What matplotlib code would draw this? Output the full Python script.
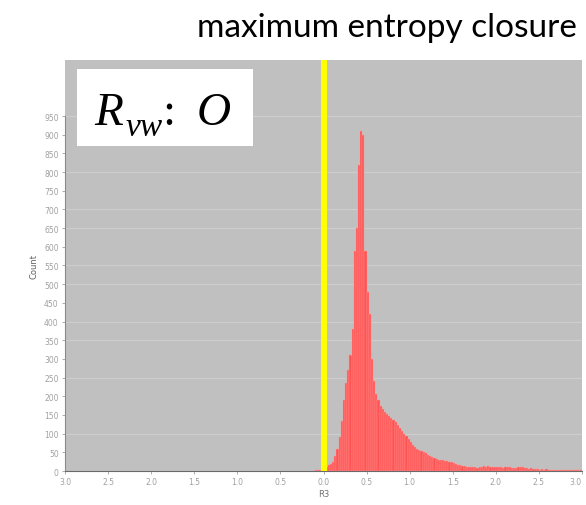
import numpy as np
import matplotlib
matplotlib.use("Agg")
import matplotlib.pyplot as plt
from matplotlib.patches import Rectangle

# ---- data ----
bin_start = -0.1
bin_width = 0.025
counts = [
    2, 3, 4, 5,
    6, 10, 15, 20, 25, 40, 58, 90, 135, 190,
    235, 270, 310, 380, 590, 650, 820, 910, 900, 590,
    480, 420, 300, 240, 205, 190, 175, 165, 158, 152,
    148, 142, 137, 130, 122, 114, 108, 100, 95, 86,
    78, 70, 63, 58, 55, 53, 50, 47, 44, 41,
    38, 36, 33, 30, 29, 30, 26, 27, 24, 23,
    22, 19, 17, 15, 14, 13, 12, 11, 11, 10,
    10, 9, 11, 12, 13, 12, 13, 11, 12, 10,
    12, 11, 10, 9, 11, 10, 10, 8, 9, 8,
    10, 12, 11, 9, 7, 6, 7, 5, 6, 5,
    4, 5, 4, 5, 3, 4, 3, 4, 3, 3,
    2, 3, 4, 3, 2, 3, 2, 3, 2, 2,
]
y_ticks = list(range(0, 1000, 50))
x_ticks = [-3.0, -2.5, -2.0, -1.5, -1.0, -0.5, 0.0, 0.5, 1.0, 1.5, 2.0, 2.5, 3.0]
x_tick_labels = ["3.0", "2.5", "2.0", "1.5", "1.0", "0.5", "0.0",
                 "0.5", "1.0", "1.5", "2.0", "2.5", "3.0"]
grid_levels = [100, 250, 350, 400, 500, 550, 650, 700, 800, 950]
title = "maximum entropy closure"
x_label = "R3"
y_label = "Count"
marker_x = 0.0

W, H = 586, 506
fig = plt.figure(figsize=(W / 100, H / 100), dpi=100)
fig.patch.set_facecolor("white")

def fx(px):
    return px / W

def fy(py):
    return 1 - py / H

ax_l, ax_r, ax_t, ax_b = 65, 582, 61, 472
ax = fig.add_axes([fx(ax_l), fy(ax_b), fx(ax_r - ax_l), (ax_b - ax_t) / H])
ax.set_facecolor("#c0c0c0")
ax.set_xlim(-3.0, 3.0)
ax.set_ylim(0, (ax_b - ax_t) * 950 / (ax_b - 117))

for g in grid_levels:
    ax.axhline(g, color="#cdcdcd", lw=0.9, zorder=1)

centers = [bin_start + bin_width * (i + 0.5) for i in range(len(counts))]
ax.bar(centers, counts, width=bin_width, color="#ff5252",
       edgecolor="#ff9a9a", linewidth=0.3, zorder=2)

ax.axvline(marker_x, color="#ffff00", lw=4.4, zorder=3)

ax.set_yticks(y_ticks)
ax.set_yticklabels([str(v) for v in y_ticks])
ax.set_xticks(x_ticks)
ax.set_xticklabels(x_tick_labels)
ax.tick_params(axis="both", labelsize=5.5, colors="#a0a0a0", length=2.5,
               width=0.6, pad=2)
last = ax.get_xticklabels()[-1]
last.set_horizontalalignment("right")
for s in ["top", "right"]:
    ax.spines[s].set_visible(False)
ax.spines["left"].set_color("#8a8a8a")
ax.spines["bottom"].set_color("#6a6a6a")
ax.spines["left"].set_bounds(0, 950)

ax.set_xlabel(x_label, fontsize=6, color="#707070", labelpad=2)
ax.set_ylabel(y_label, fontsize=6, color="#606060", labelpad=4)

# title
fig.text(fx(387), fy(28), title, ha="center", va="center",
         fontsize=24, family="Lato", color="black")

# white label box
box_l, box_r, box_t, box_b = 77, 253, 70, 147
fig.patches.append(Rectangle((fx(box_l), fy(box_b)), fx(box_r - box_l),
                             (box_b - box_t) / H, transform=fig.transFigure,
                             facecolor="white", edgecolor="none", zorder=5))
serif = "Liberation Serif"
fig.text(fx(94), fy(125), "R", ha="left", va="baseline", fontsize=34,
         family=serif, style="italic", color="black", zorder=6)
fig.text(fx(126), fy(136), "vw", ha="left", va="baseline", fontsize=24,
         family=serif, style="italic", color="black", zorder=6)
fig.text(fx(162), fy(125), ":", ha="left", va="baseline", fontsize=34,
         family=serif, color="black", zorder=6)
fig.text(fx(197), fy(125), "O", ha="left", va="baseline", fontsize=34,
         family=serif, style="italic", color="black", zorder=6)

fig.savefig("out.png", dpi=100, facecolor="white")
